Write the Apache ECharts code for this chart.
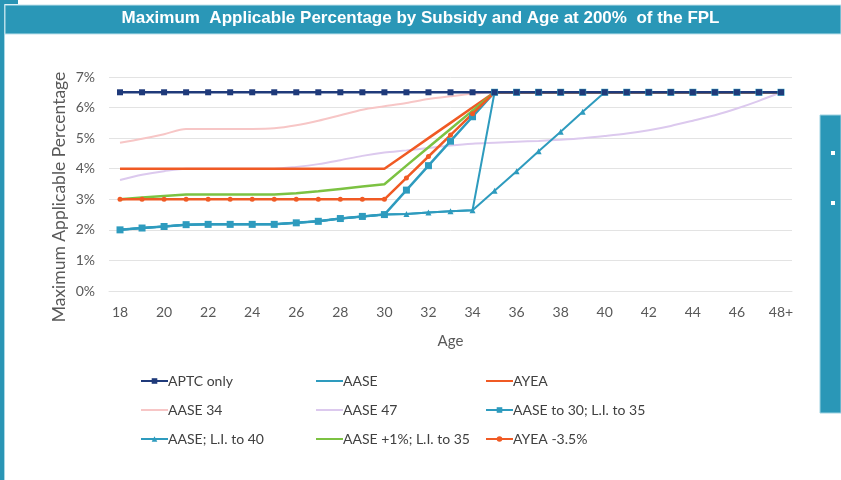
<!DOCTYPE html>
<html>
<head>
<meta charset="utf-8">
<script src="https://cdn.jsdelivr.net/npm/echarts@6/dist/echarts.min.js"></script>
<style>
  html, body { margin: 0; padding: 0; background: #fff; }
  #chart { width: 841px; height: 480px; }
</style>
</head>
<body>
<div id="chart"></div>
<script>
// ages on the x axis
var ages = ['18','19','20','21','22','23','24','25','26','27','28','29','30','31','32','33','34','35','36','37','38','39','40','41','42','43','44','45','46','47','48+'];

// values in percent
var aptcOnly = [6.5,6.5,6.5,6.5,6.5,6.5,6.5,6.5,6.5,6.5,6.5,6.5,6.5,6.5,6.5,6.5,6.5,6.5,6.5,6.5,6.5,6.5,6.5,6.5,6.5,6.5,6.5,6.5,6.5,6.5,6.5];
var aase = [2.0,2.06,2.11,2.17,2.18,2.18,2.18,2.18,2.23,2.28,2.37,2.44,2.5,2.52,2.57,2.61,2.64,6.5,6.5,6.5,6.5,6.5,6.5,6.5,6.5,6.5,6.5,6.5,6.5,6.5,6.5];
var ayea = [4.0,4.0,4.0,4.0,4.0,4.0,4.0,4.0,4.0,4.0,4.0,4.0,4.0,4.5,5.0,5.5,6.0,6.5,6.5,6.5,6.5,6.5,6.5,6.5,6.5,6.5,6.5,6.5,6.5,6.5,6.5];
var aase34 = [4.85,4.98,5.13,5.3,5.3,5.3,5.3,5.32,5.42,5.57,5.75,5.93,6.04,6.15,6.28,6.37,6.45,6.5,6.5,6.5,6.5,6.5,6.5,6.5,6.5,6.5,6.5,6.5,6.5,6.5,6.5];
var aase47 = [3.63,3.8,3.92,4.0,4.0,4.0,4.0,4.0,4.06,4.15,4.28,4.42,4.53,4.6,4.68,4.76,4.82,4.85,4.88,4.91,4.95,5.0,5.07,5.15,5.26,5.4,5.57,5.75,5.97,6.22,6.5];
var aaseTo30 = [2.0,2.06,2.11,2.17,2.18,2.18,2.18,2.18,2.23,2.28,2.37,2.44,2.5,3.3,4.1,4.9,5.7,6.5,6.5,6.5,6.5,6.5,6.5,6.5,6.5,6.5,6.5,6.5,6.5,6.5,6.5];
var aaseTo40 = [2.0,2.06,2.11,2.17,2.18,2.18,2.18,2.18,2.23,2.28,2.37,2.44,2.5,2.52,2.57,2.61,2.64,3.28,3.92,4.57,5.21,5.86,6.5,6.5,6.5,6.5,6.5,6.5,6.5,6.5,6.5];
var aasePlus1 = [3.0,3.06,3.11,3.16,3.16,3.16,3.16,3.16,3.2,3.26,3.34,3.42,3.49,4.1,4.7,5.3,5.9,6.5,6.5,6.5,6.5,6.5,6.5,6.5,6.5,6.5,6.5,6.5,6.5,6.5,6.5];
var ayeaMinus = [3.0,3.0,3.0,3.0,3.0,3.0,3.0,3.0,3.0,3.0,3.0,3.0,3.0,3.7,4.4,5.1,5.8,6.5,6.5,6.5,6.5,6.5,6.5,6.5,6.5,6.5,6.5,6.5,6.5,6.5,6.5];

var yTicks = [0, 1, 2, 3, 4, 5, 6, 7];

var navy = '#1F3A7A';
var teal = '#2E9BBE';
var orange = '#F05A24';
var green = '#7CC242';
var pink = '#F7C6C6';
var lavender = '#DCC9EE';
var font = 'Lato, "Open Sans", sans-serif';

function line(name, data, color, width, symbol, size, extra) {
  var s = {
    name: name,
    type: 'line',
    data: data,
    symbol: symbol || 'none',
    symbolSize: size || 0,
    showSymbol: !!symbol,
    lineStyle: { color: color, width: width },
    itemStyle: { color: color },
    emphasis: { disabled: true },
    animation: false
  };
  return Object.assign(s, extra || {});
}

// legend entry; plain lines get no marker
function entry(name, marker) {
  return marker ? { name: name } : { name: name, itemStyle: { opacity: 0 } };
}

var chart = echarts.init(document.getElementById('chart'));

var legendBase = {
  orient: 'vertical',
  top: 374,
  padding: 0,
  itemGap: 15,
  itemWidth: 27,
  itemHeight: 7,
  textStyle: { fontFamily: font, fontSize: 14, color: '#404040', padding: [0, 0, 0, -5] },
  selectedMode: false
};

chart.setOption({
  backgroundColor: '#fff',
  animation: false,
  graphic: [
    { type: 'rect', shape: { x: 0, y: 0, width: 4, height: 480 }, style: { fill: '#2A95B5' } },
    { type: 'rect', shape: { x: 4, y: 0, width: 1, height: 480 }, style: { fill: '#A9D8E6' } },
    { type: 'rect', shape: { x: 0, y: 0, width: 18, height: 4 }, style: { fill: '#2A95B5' } },
    { type: 'rect', shape: { x: 5, y: 5, width: 836, height: 29 }, style: { fill: '#2A97B7', stroke: '#BFE2EC', lineWidth: 1 } },
    { type: 'text', left: 'center', top: 10, style: { text: 'Maximum  Applicable Percentage by Subsidy and Age at 200%  of the FPL', fill: '#fff', font: 'bold 17px "Liberation Sans", Arial, sans-serif' } },
    { type: 'rect', shape: { x: 820, y: 115, width: 21, height: 298 }, style: { fill: '#2A97B7', stroke: '#9FD3E2', lineWidth: 1 } },
    { type: 'rect', shape: { x: 831, y: 151, width: 4, height: 4 }, style: { fill: '#fff' } },
    { type: 'rect', shape: { x: 831, y: 201, width: 4, height: 4 }, style: { fill: '#fff' } },
    { type: 'text', x: 59, y: 197, rotation: Math.PI / 2, style: { text: 'Maximum Applicable Percentage', fill: '#595959', font: '17.5px Lato, sans-serif', align: 'center', verticalAlign: 'middle' } }
  ],
  grid: { left: 109, right: 49, top: 77, bottom: 189 },
  legend: [
    Object.assign({ left: 140, data: [entry('APTC only', true), entry('AASE 34'), entry('AASE; L.I. to 40', true)] }, legendBase),
    Object.assign({ left: 315, data: [entry('AASE'), entry('AASE 47'), entry('AASE +1%; L.I. to 35')] }, legendBase),
    Object.assign({ left: 485, data: [entry('AYEA'), entry('AASE to 30; L.I. to 35', true), entry('AYEA -3.5%', true)] }, legendBase)
  ],
  xAxis: {
    type: 'category',
    data: ages,
    boundaryGap: true,
    name: 'Age',
    nameLocation: 'middle',
    nameGap: 43,
    nameTextStyle: { fontFamily: font, fontSize: 15, color: '#595959' },
    axisLine: { show: true, lineStyle: { color: '#E3E3E3', width: 1 } },
    axisTick: { show: false },
    axisLabel: { interval: 1, margin: 14, fontFamily: font, fontSize: 14, color: '#595959' }
  },
  yAxis: {
    type: 'value',
    min: yTicks[0],
    max: yTicks[yTicks.length - 1],
    interval: 1,
    axisLine: { show: false },
    axisTick: { show: false },
    splitLine: { lineStyle: { color: '#E3E3E3', width: 1 } },
    axisLabel: { margin: 14, fontFamily: font, fontSize: 14, color: '#595959', formatter: '{value}%' }
  },
  series: [
    line('AASE 34', aase34, pink, 2, null, 0, { smooth: 0.3 }),
    line('AASE 47', aase47, lavender, 2, null, 0, { smooth: 0.3 }),
    line('AASE', aase, teal, 2),
    line('AYEA', ayea, orange, 2.5),
    line('AASE; L.I. to 40', aaseTo40, teal, 2, 'triangle', 6),
    line('AASE +1%; L.I. to 35', aasePlus1, green, 2.5),
    line('AASE to 30; L.I. to 35', aaseTo30, teal, 2.5, 'rect', 7),
    line('AYEA -3.5%', ayeaMinus, orange, 2.5, 'circle', 5),
    line('APTC only', aptcOnly, navy, 2.5, 'rect', 6)
  ]
});
</script>
</body>
</html>
